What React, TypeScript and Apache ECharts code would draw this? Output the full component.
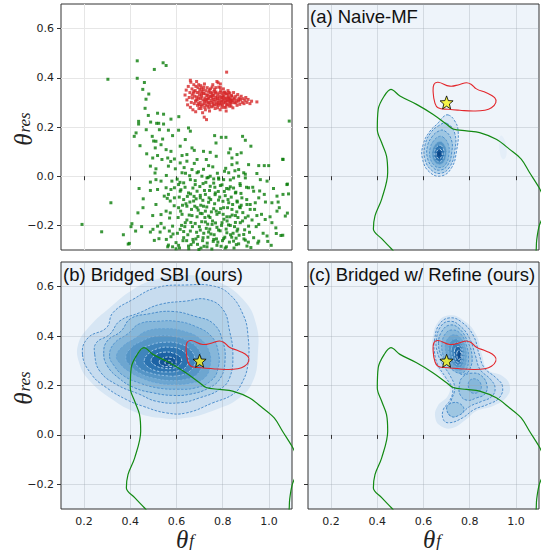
import React, { useEffect, useRef } from 'react';
import * as echarts from 'echarts';

type P = [number, number];

const X_RANGE: P = [0.1, 1.1];
const Y_RANGE: P = [-0.3, 0.7];
const X_TICKS = [0.2, 0.4, 0.6, 0.8, 1.0];
const Y_TICKS = [-0.2, 0.0, 0.2, 0.4, 0.6];

const PANEL_TITLES = ['(a) Naive-MF', '(b) Bridged SBI (ours)', '(c) Bridged w/ Refine (ours)'];
const X_TITLE = '{t|θ}{s|f}';
const Y_TITLE = '{t|θ}{s|res}';

const STAR: P = [0.7, 0.3];

const redContour: P[] = [
  [0.645, 0.373], [0.663, 0.382], [0.714, 0.366], [0.757, 0.373], [0.786, 0.380], [0.807, 0.373],
  [0.829, 0.355], [0.872, 0.339], [0.908, 0.319], [0.913, 0.299], [0.894, 0.278], [0.865, 0.268],
  [0.815, 0.265], [0.757, 0.268], [0.707, 0.272], [0.663, 0.278], [0.649, 0.299], [0.642, 0.339],
];

const greenCurve: P[] = [
  [0.478, -0.315], [0.462, -0.296], [0.42, -0.255], [0.383, -0.215], [0.39, -0.161], [0.419, -0.093],
  [0.445, 0.015], [0.44, 0.082], [0.419, 0.136], [0.4, 0.19], [0.404, 0.272], [0.43, 0.326],
  [0.459, 0.353], [0.498, 0.326], [0.57, 0.292], [0.642, 0.251], [0.70, 0.211], [0.728, 0.192],
  [0.786, 0.184], [0.843, 0.177], [0.915, 0.150], [0.973, 0.109], [1.023, 0.069], [1.059, 0.015],
  [1.10, -0.046], [1.115, -0.075],
];
const greenCurveTail: P[] = [[1.115, -0.17], [1.1, -0.205], [1.09, -0.26], [1.088, -0.296], [1.086, -0.32]];

const greenPoints: P[] = [
  [0.43, 0.469], [0.542, 0.461], [0.555, 0.45], [0.504, 0.434], [0.303, 0.394], [0.43, 0.398],
  [0.461, 0.381], [0.454, 0.353], [0.48, 0.334], [0.468, 0.313], [0.464, 0.276], [0.478, 0.247],
  [0.518, 0.256], [0.544, 0.252], [0.576, 0.232], [0.436, 0.223], [0.436, 0.212], [0.488, 0.22],
  [0.514, 0.215], [0.523, 0.215], [0.544, 0.212], [0.61, 0.242], [1.088, 0.224],
  [0.425, 0.176], [0.417, 0.162], [0.442, 0.124], [0.469, 0.189], [0.495, 0.162], [0.511, 0.142],
  [0.533, 0.128], [0.526, 0.189], [0.565, 0.187], [0.583, 0.165], [0.54, 0.151], [0.501, 0.143],
  [0.508, 0.115], [0.555, 0.108], [0.576, 0.101], [0.471, 0.091], [0.497, 0.074], [0.518, 0.084],
  [0.537, 0.068], [0.562, 0.074], [0.591, 0.07], [0.487, 0.041], [0.511, 0.03], [0.565, 0.041],
  [0.507, 0.013], [0.556, 0.003], [0.487, -0.024], [0.438, -0.05], [0.511, -0.014], [0.533, -0.02],
  [0.555, -0.047], [0.576, -0.054], [0.591, -0.047], [0.487, -0.058], [0.456, -0.092], [0.518, -0.054],
  [0.316, -0.108], [0.565, -0.074], [0.547, -0.081], [0.573, -0.101], [0.591, -0.088], [0.455, -0.128],
  [0.511, -0.115], [0.433, -0.149], [0.497, -0.16], [0.555, -0.142], [0.533, -0.156], [0.573, -0.149],
  [0.191, -0.196], [0.276, -0.226], [0.37, -0.238], [0.407, -0.193], [0.403, -0.205], [0.423, -0.223],
  [0.449, -0.205], [0.487, -0.227], [0.498, -0.216], [0.518, -0.203], [0.533, -0.192], [0.529, -0.227],
  [0.547, -0.21], [0.569, -0.223], [0.583, -0.203], [0.504, -0.261], [0.524, -0.254], [0.556, -0.257],
  [0.576, -0.246], [0.396, -0.273], [0.562, -0.287], [0.583, -0.287], [0.598, -0.27], [0.391, -0.276],
  [0.609, 0.187], [0.652, 0.196], [0.66, 0.183], [0.638, 0.149], [0.765, 0.165], [0.794, 0.158],
  [0.814, 0.158], [0.886, 0.162], [0.898, 0.146], [0.771, 0.135], [0.833, 0.111], [0.922, 0.122],
  [0.616, 0.122], [0.677, 0.105], [0.667, 0.115], [0.717, 0.101], [0.746, 0.097], [0.645, 0.088],
  [0.624, 0.084], [0.772, 0.081], [0.826, 0.095], [0.84, 0.074], [0.862, 0.088], [0.88, 0.095],
  [1.061, 0.068], [0.729, 0.068], [0.689, 0.068], [0.739, 0.043], [0.645, 0.061], [0.616, 0.054],
  [0.667, 0.027], [0.689, 0.014], [0.624, 0.014], [0.84, 0.047], [0.862, 0.054], [0.912, 0.047],
  [0.956, 0.043], [0.98, 0.043], [0.999, 0.043], [0.808, 0.02], [0.826, 0.014], [0.869, 0.027],
  [0.891, 0.014], [0.948, 0.011], [0.71, 0.0], [0.732, -0.007], [0.746, 0.0], [0.761, -0.011],
  [0.782, -0.007], [0.804, -0.014], [0.847, -0.007], [0.869, 0.0], [0.898, -0.007], [0.963, -0.014],
  [0.992, -0.02], [1.078, -0.034], [0.66, -0.014], [0.631, -0.027], [0.609, -0.034], [0.681, -0.034],
  [0.715, -0.03], [0.746, -0.041], [0.79, -0.038], [0.833, -0.043], [0.876, -0.038], [0.912, -0.047],
  [0.934, -0.061], [0.98, -0.074], [1.035, -0.081], [1.061, -0.074], [0.616, -0.061], [0.652, -0.068],
  [0.689, -0.061], [0.725, -0.074], [0.768, -0.068], [0.811, -0.079], [0.855, -0.068], [0.883, -0.088],
  [0.956, -0.088], [0.631, -0.095], [0.674, -0.101], [0.703, -0.088], [0.739, -0.106], [0.782, -0.097],
  [0.826, -0.108], [0.862, -0.101], [0.905, -0.115], [0.941, -0.108], [1.013, -0.108], [1.035, -0.142],
  [1.071, -0.162], [0.609, -0.128], [0.645, -0.122], [0.689, -0.128], [0.717, -0.122], [0.761, -0.132],
  [0.804, -0.128], [0.84, -0.135], [0.876, -0.128], [0.919, -0.135], [0.624, -0.155], [0.667, -0.16],
  [0.703, -0.151], [0.739, -0.162], [0.775, -0.155], [0.818, -0.165], [0.855, -0.16], [0.898, -0.169],
  [0.948, -0.16], [0.984, -0.176], [1.013, -0.189], [0.638, -0.189], [0.681, -0.192], [0.725, -0.186],
  [0.754, -0.196], [0.797, -0.189], [0.833, -0.2], [0.876, -0.189], [0.912, -0.203], [0.956, -0.196],
  [0.616, -0.216], [0.66, -0.223], [0.703, -0.219], [0.739, -0.227], [0.782, -0.219], [0.818, -0.23],
  [0.862, -0.223], [0.891, -0.237], [0.934, -0.25], [0.992, -0.243], [1.032, -0.233], [1.052, -0.241],
  [0.631, -0.25], [0.671, -0.257], [0.715, -0.25], [0.761, -0.257], [0.804, -0.254], [0.847, -0.264],
  [0.898, -0.26], [0.956, -0.264], [0.609, -0.281], [0.652, -0.284], [0.691, -0.277], [0.732, -0.287],
  [0.775, -0.281], [0.816, -0.287], [0.859, -0.278], [0.905, -0.284], [1.01, -0.281],
  [1.08, -0.032], [1.06, 0.069], [1.08, -0.15], [1.06, -0.24], [1.085, -0.072], [1.04, -0.105],
  [0.603, -0.012], [0.612, -0.085], [0.618, -0.142], [0.622, -0.2], [0.628, -0.262], [0.633, 0.035],
  [0.637, -0.045], [0.641, -0.112], [0.645, -0.178], [0.649, -0.238], [0.653, -0.295], [0.657, 0.002],
  [0.661, -0.072], [0.665, -0.135], [0.669, -0.205], [0.673, -0.268], [0.677, 0.052], [0.681, -0.018],
  [0.685, -0.092], [0.689, -0.165], [0.693, -0.245], [0.697, -0.298], [0.701, -0.042], [0.705, -0.118],
  [0.709, -0.185], [0.713, -0.262], [0.717, 0.028], [0.721, -0.058], [0.725, -0.142], [0.729, -0.212],
  [0.733, -0.272], [0.737, -0.005], [0.741, -0.088], [0.745, -0.168], [0.749, -0.235], [0.753, -0.296],
  [0.757, 0.038], [0.761, -0.028], [0.765, -0.112], [0.769, -0.19], [0.773, -0.255], [0.777, 0.012],
  [0.781, -0.062], [0.785, -0.148], [0.789, -0.222], [0.793, -0.285], [0.797, -0.035], [0.801, -0.102],
  [0.805, -0.175], [0.809, -0.248], [0.813, 0.032], [0.817, -0.05], [0.821, -0.128], [0.825, -0.198],
  [0.829, -0.268], [0.833, -0.015], [0.837, -0.085], [0.841, -0.158], [0.845, -0.232], [0.849, -0.292],
  [0.853, 0.022], [0.857, -0.065], [0.861, -0.145], [0.865, -0.215], [0.869, -0.275], [0.875, -0.03],
  [0.88, -0.118], [0.886, -0.182], [0.892, -0.255], [0.898, 0.008], [0.904, -0.095], [0.91, -0.162],
  [0.916, -0.228], [0.922, -0.29], [0.93, -0.045], [0.938, -0.135], [0.945, -0.205], [0.952, -0.272],
  [0.96, -0.06], [0.968, -0.155], [0.975, -0.232], [0.985, -0.105], [0.995, -0.265], [1.005, -0.165],
  [1.02, -0.05], [1.03, -0.21], [1.045, -0.128],
  [0.607, -0.168], [0.615, -0.025], [0.626, -0.118], [0.631, -0.225], [0.639, 0.012], [0.647, -0.082],
  [0.655, -0.158], [0.663, -0.278], [0.671, -0.048], [0.679, -0.122], [0.687, -0.228], [0.695, 0.018],
  [0.703, -0.078], [0.711, -0.152], [0.719, -0.285], [0.727, -0.025], [0.735, -0.195], [0.743, -0.058],
  [0.751, -0.145], [0.759, -0.265], [0.767, -0.075], [0.775, -0.208], [0.783, -0.012], [0.791, -0.132],
  [0.799, -0.262], [0.807, -0.062], [0.815, -0.215], [0.823, -0.095], [0.831, -0.165], [0.839, -0.248],
  [0.847, -0.048], [0.855, -0.188], [0.863, -0.105], [0.871, -0.24], [0.879, -0.07], [0.887, -0.148],
  [0.895, -0.218], [0.903, -0.045], [0.911, -0.268], [0.919, -0.115], [0.927, -0.178], [0.57, -0.17],
  [0.585, -0.235], [0.59, -0.12], [0.58, -0.02], [0.595, 0.03], [0.565, -0.28], [0.56, -0.09],
  [0.575, 0.06], [0.598, -0.295],
  [0.604, -0.232], [0.613, -0.292], [0.619, -0.055], [0.636, -0.205], [0.644, -0.262], [0.658, -0.105],
  [0.662, -0.188], [0.676, -0.082], [0.684, -0.255], [0.694, -0.138], [0.699, -0.205], [0.706, -0.292],
  [0.714, -0.098], [0.718, -0.232], [0.723, -0.168], [0.731, -0.125], [0.736, -0.248], [0.744, -0.215],
  [0.748, -0.095], [0.756, -0.182], [0.763, -0.238], [0.766, -0.045], [0.772, -0.142], [0.779, -0.268],
  [0.787, -0.085], [0.795, -0.2], [0.802, -0.155], [0.811, -0.292], [0.819, -0.182], [0.827, -0.052],
  [0.834, -0.238], [0.843, -0.115], [0.851, -0.205], [0.858, -0.252], [0.866, -0.168], [0.873, -0.125],
];

const redPoints: P[] = [
  [0.637, 0.33], [0.642, 0.35], [0.645, 0.31], [0.648, 0.29], [0.651, 0.365], [0.655, 0.32],
  [0.658, 0.34], [0.66, 0.28], [0.662, 0.382], [0.664, 0.3], [0.667, 0.355], [0.669, 0.318],
  [0.671, 0.27], [0.673, 0.338], [0.675, 0.372], [0.677, 0.295], [0.679, 0.325], [0.681, 0.348],
  [0.683, 0.262], [0.685, 0.31], [0.687, 0.385], [0.689, 0.34], [0.691, 0.288], [0.693, 0.36],
  [0.695, 0.318], [0.697, 0.275], [0.699, 0.33], [0.701, 0.352], [0.703, 0.3], [0.705, 0.368],
  [0.707, 0.285], [0.709, 0.322], [0.711, 0.345], [0.713, 0.258], [0.715, 0.31], [0.717, 0.336],
  [0.719, 0.295], [0.721, 0.375], [0.723, 0.318], [0.725, 0.27], [0.727, 0.348], [0.729, 0.302],
  [0.731, 0.328], [0.733, 0.36], [0.735, 0.285], [0.737, 0.315], [0.739, 0.342], [0.741, 0.298],
  [0.743, 0.265], [0.745, 0.325], [0.747, 0.355], [0.749, 0.308], [0.751, 0.282], [0.753, 0.338],
  [0.755, 0.318], [0.757, 0.372], [0.759, 0.295], [0.761, 0.33], [0.763, 0.305], [0.765, 0.352],
  [0.767, 0.275], [0.769, 0.32], [0.771, 0.342], [0.773, 0.298], [0.775, 0.385], [0.777, 0.315],
  [0.779, 0.335], [0.781, 0.288], [0.783, 0.362], [0.785, 0.308], [0.787, 0.326], [0.789, 0.27],
  [0.791, 0.348], [0.793, 0.302], [0.795, 0.318], [0.797, 0.338], [0.799, 0.29], [0.801, 0.31],
  [0.803, 0.355], [0.805, 0.325], [0.807, 0.28], [0.809, 0.342], [0.811, 0.3], [0.813, 0.318],
  [0.815, 0.265], [0.817, 0.335], [0.819, 0.31], [0.821, 0.292], [0.823, 0.348], [0.825, 0.322],
  [0.827, 0.305], [0.829, 0.285], [0.831, 0.338], [0.833, 0.315], [0.835, 0.298], [0.838, 0.328],
  [0.841, 0.308], [0.844, 0.278], [0.847, 0.34], [0.85, 0.318], [0.853, 0.298], [0.856, 0.325],
  [0.859, 0.31], [0.862, 0.288], [0.865, 0.332], [0.868, 0.305], [0.871, 0.318], [0.874, 0.292],
  [0.877, 0.312], [0.88, 0.325], [0.884, 0.3], [0.888, 0.315], [0.892, 0.295], [0.896, 0.308],
  [0.9, 0.32], [0.905, 0.3], [0.91, 0.312], [0.918, 0.295], [0.925, 0.305], [0.948, 0.302],
  [0.73, 0.23], [0.72, 0.24], [0.817, 0.423], [0.78, 0.38], [0.79, 0.375], [0.66, 0.39],
  [0.682, 0.305], [0.688, 0.322], [0.694, 0.296], [0.698, 0.341], [0.704, 0.315], [0.708, 0.33],
  [0.712, 0.29], [0.716, 0.352], [0.72, 0.305], [0.724, 0.335], [0.728, 0.29], [0.732, 0.312],
  [0.736, 0.33], [0.74, 0.318], [0.744, 0.29], [0.748, 0.34], [0.752, 0.3], [0.756, 0.328],
  [0.76, 0.312], [0.764, 0.29], [0.768, 0.338], [0.772, 0.31], [0.776, 0.325], [0.78, 0.3],
  [0.784, 0.318], [0.788, 0.34], [0.792, 0.292], [0.796, 0.305], [0.8, 0.328], [0.804, 0.298],
  [0.808, 0.315], [0.812, 0.335], [0.816, 0.29], [0.82, 0.305], [0.824, 0.33], [0.828, 0.315],
  [0.832, 0.295], [0.836, 0.31], [0.84, 0.325], [0.845, 0.3], [0.69, 0.31], [0.7, 0.29],
  [0.71, 0.338], [0.726, 0.31], [0.738, 0.3], [0.75, 0.325], [0.762, 0.345], [0.774, 0.29],
  [0.786, 0.295], [0.798, 0.32], [0.81, 0.305], [0.822, 0.318], [0.834, 0.305], [0.848, 0.312],
  [0.858, 0.3], [0.87, 0.31], [0.675, 0.345], [0.668, 0.33], [0.684, 0.365], [0.696, 0.372],
  [0.708, 0.358], [0.718, 0.362], [0.742, 0.35], [0.754, 0.362], [0.77, 0.36], [0.79, 0.36],
  [0.806, 0.34], [0.826, 0.34], [0.706, 0.275], [0.722, 0.28], [0.74, 0.278], [0.758, 0.285],
  [0.778, 0.278], [0.796, 0.28], [0.814, 0.28], [0.836, 0.285],
];

// Panel (a) Naive-MF density contours (outer -> inner)
const naiveContours: P[][] = [
  [[0.707, 0.249], [0.735, 0.225], [0.75, 0.183], [0.743, 0.103], [0.722, 0.035], [0.678, 0.001], [0.628, 0.015], [0.596, 0.069], [0.599, 0.13], [0.628, 0.183], [0.664, 0.217], [0.684, 0.24]],
  [[0.70, 0.215], [0.735, 0.175], [0.735, 0.10], [0.715, 0.04], [0.677, 0.012], [0.635, 0.024], [0.606, 0.07], [0.607, 0.128], [0.63, 0.175], [0.665, 0.205]],
  [[0.69, 0.185], [0.72, 0.15], [0.722, 0.095], [0.705, 0.045], [0.674, 0.025], [0.641, 0.035], [0.617, 0.075], [0.618, 0.125], [0.637, 0.16], [0.663, 0.182]],
  [[0.683, 0.16], [0.707, 0.13], [0.71, 0.09], [0.697, 0.05], [0.672, 0.035], [0.646, 0.045], [0.628, 0.078], [0.63, 0.118], [0.645, 0.145], [0.664, 0.16]],
  [[0.678, 0.14], [0.697, 0.115], [0.698, 0.085], [0.688, 0.058], [0.67, 0.048], [0.651, 0.056], [0.638, 0.082], [0.64, 0.11], [0.652, 0.13], [0.665, 0.14]],
  [[0.675, 0.125], [0.688, 0.105], [0.688, 0.083], [0.68, 0.065], [0.668, 0.06], [0.655, 0.066], [0.647, 0.085], [0.649, 0.105], [0.658, 0.12]],
  [[0.672, 0.11], [0.68, 0.097], [0.679, 0.08], [0.668, 0.072], [0.658, 0.078], [0.655, 0.093], [0.662, 0.107]],
  [[0.67, 0.098], [0.674, 0.09], [0.668, 0.082], [0.662, 0.087], [0.664, 0.097]],
  [[0.935, 0.165], [0.95, 0.15], [0.96, 0.11], [0.955, 0.075], [0.942, 0.07], [0.93, 0.1], [0.928, 0.14]],
];
const naiveLevels = [1, 3, 4, 5, 7, 9, 11, 12, 0];
const naiveOutline = [1, 1, 1, 1, 1, 1, 1, 0, 0];

// Panel (b) Bridged SBI
const bridgedContours: P[][] = [
  [[0.174, 0.366], [0.225, 0.441], [0.311, 0.515], [0.412, 0.589], [0.513, 0.630], [0.643, 0.647], [0.772, 0.623], [0.888, 0.549], [0.945, 0.447], [0.952, 0.326], [0.931, 0.218], [0.873, 0.150], [0.772, 0.103], [0.643, 0.069], [0.527, 0.069], [0.412, 0.096], [0.311, 0.150], [0.225, 0.218], [0.181, 0.285]],
  [[0.193, 0.326], [0.217, 0.393], [0.297, 0.434], [0.325, 0.495], [0.412, 0.549], [0.513, 0.596], [0.643, 0.607], [0.758, 0.603], [0.830, 0.569], [0.888, 0.488], [0.909, 0.407], [0.909, 0.285], [0.880, 0.204], [0.844, 0.164], [0.758, 0.130], [0.643, 0.089], [0.556, 0.089], [0.455, 0.116], [0.383, 0.143], [0.297, 0.191], [0.232, 0.245]],
  [[0.246, 0.326], [0.253, 0.373], [0.311, 0.407], [0.354, 0.461], [0.441, 0.495], [0.527, 0.528], [0.643, 0.542], [0.729, 0.549], [0.801, 0.508], [0.830, 0.420], [0.844, 0.326], [0.830, 0.231], [0.787, 0.184], [0.700, 0.150], [0.614, 0.130], [0.513, 0.136], [0.441, 0.164], [0.340, 0.204], [0.268, 0.258]],
  [[0.285, 0.33], [0.30, 0.38], [0.36, 0.42], [0.40, 0.47], [0.48, 0.49], [0.58, 0.50], [0.68, 0.48], [0.76, 0.45], [0.80, 0.38], [0.81, 0.30], [0.79, 0.23], [0.74, 0.19], [0.66, 0.165], [0.58, 0.16], [0.50, 0.17], [0.42, 0.19], [0.35, 0.23], [0.30, 0.28]],
  [[0.31, 0.32], [0.33, 0.37], [0.39, 0.41], [0.44, 0.45], [0.52, 0.46], [0.60, 0.46], [0.68, 0.44], [0.75, 0.40], [0.78, 0.34], [0.78, 0.27], [0.75, 0.22], [0.68, 0.19], [0.60, 0.185], [0.52, 0.19], [0.44, 0.21], [0.37, 0.24], [0.33, 0.28]],
  [[0.34, 0.32], [0.37, 0.36], [0.42, 0.39], [0.47, 0.42], [0.55, 0.43], [0.63, 0.42], [0.70, 0.39], [0.74, 0.34], [0.745, 0.28], [0.72, 0.23], [0.66, 0.21], [0.59, 0.205], [0.52, 0.21], [0.45, 0.23], [0.39, 0.26], [0.355, 0.29]],
  [[0.38, 0.31], [0.40, 0.35], [0.45, 0.38], [0.51, 0.40], [0.58, 0.40], [0.65, 0.38], [0.70, 0.34], [0.71, 0.29], [0.69, 0.245], [0.64, 0.225], [0.57, 0.22], [0.50, 0.23], [0.44, 0.25], [0.40, 0.28]],
  [[0.42, 0.305], [0.44, 0.34], [0.49, 0.365], [0.55, 0.375], [0.61, 0.37], [0.66, 0.345], [0.68, 0.30], [0.66, 0.26], [0.61, 0.24], [0.55, 0.24], [0.49, 0.25], [0.44, 0.27]],
  [[0.46, 0.30], [0.48, 0.33], [0.52, 0.35], [0.57, 0.355], [0.62, 0.345], [0.65, 0.315], [0.645, 0.28], [0.61, 0.26], [0.56, 0.255], [0.51, 0.26], [0.47, 0.28]],
  [[0.49, 0.30], [0.51, 0.325], [0.55, 0.335], [0.59, 0.33], [0.62, 0.31], [0.615, 0.285], [0.585, 0.27], [0.545, 0.27], [0.51, 0.28]],
  [[0.525, 0.295], [0.54, 0.31], [0.57, 0.315], [0.595, 0.305], [0.595, 0.285], [0.57, 0.277], [0.54, 0.28]],
  [[0.55, 0.293], [0.565, 0.302], [0.58, 0.296], [0.575, 0.285], [0.557, 0.285]],
];
const bridgedLevels = [1, 2, 3, 4, 5, 6, 7, 8, 9, 10, 11, 12];
const bridgedOutline = [0, 1, 1, 1, 1, 1, 1, 1, 1, 1, 1, 1];

// Panel (c) Bridged w/ Refine
const refineContours: P[][] = [
  [[0.640, 0.393], [0.661, 0.454], [0.712, 0.484], [0.777, 0.461], [0.827, 0.407], [0.853, 0.326], [0.877, 0.265], [0.942, 0.238], [0.974, 0.197], [0.957, 0.150], [0.899, 0.116], [0.827, 0.096], [0.784, 0.062], [0.726, 0.028], [0.676, 0.035], [0.651, 0.069], [0.661, 0.116], [0.705, 0.157], [0.712, 0.197], [0.676, 0.245], [0.647, 0.299], [0.637, 0.353]],
  [[0.647, 0.380], [0.668, 0.447], [0.715, 0.474], [0.769, 0.454], [0.817, 0.400], [0.841, 0.326], [0.863, 0.272], [0.914, 0.231], [0.942, 0.197], [0.928, 0.150], [0.877, 0.123], [0.820, 0.103], [0.769, 0.069], [0.712, 0.049], [0.686, 0.062], [0.686, 0.103], [0.712, 0.136], [0.726, 0.184], [0.697, 0.231], [0.661, 0.285], [0.647, 0.339]],
  [[0.655, 0.38], [0.675, 0.44], [0.715, 0.46], [0.76, 0.44], [0.80, 0.39], [0.825, 0.32], [0.845, 0.265], [0.89, 0.225], [0.91, 0.19], [0.895, 0.155], [0.85, 0.135], [0.80, 0.115], [0.76, 0.085], [0.72, 0.075], [0.705, 0.1], [0.72, 0.14], [0.735, 0.19], [0.715, 0.24], [0.68, 0.29], [0.66, 0.335]],
  [[0.665, 0.37], [0.68, 0.42], [0.715, 0.445], [0.755, 0.43], [0.79, 0.38], [0.81, 0.32], [0.80, 0.265], [0.775, 0.245], [0.745, 0.255], [0.71, 0.28], [0.68, 0.315]],
  [[0.77, 0.235], [0.81, 0.25], [0.85, 0.24], [0.875, 0.2], [0.865, 0.165], [0.83, 0.15], [0.79, 0.14], [0.76, 0.16], [0.755, 0.2]],
  [[0.70, 0.11], [0.725, 0.13], [0.76, 0.125], [0.775, 0.1], [0.755, 0.08], [0.72, 0.075]],
  [[0.68, 0.37], [0.695, 0.41], [0.725, 0.425], [0.76, 0.41], [0.785, 0.365], [0.795, 0.31], [0.785, 0.265], [0.76, 0.25], [0.73, 0.26], [0.70, 0.29], [0.683, 0.33]],
  [[0.80, 0.22], [0.83, 0.225], [0.85, 0.2], [0.84, 0.175], [0.81, 0.17], [0.795, 0.19]],
  [[0.695, 0.365], [0.71, 0.395], [0.735, 0.405], [0.762, 0.39], [0.78, 0.355], [0.785, 0.31], [0.775, 0.272], [0.755, 0.262], [0.73, 0.27], [0.71, 0.295], [0.698, 0.33]],
  [[0.71, 0.36], [0.723, 0.383], [0.743, 0.388], [0.763, 0.373], [0.775, 0.345], [0.777, 0.31], [0.768, 0.281], [0.752, 0.273], [0.733, 0.28], [0.718, 0.30], [0.71, 0.33]],
  [[0.722, 0.353], [0.733, 0.37], [0.75, 0.372], [0.764, 0.358], [0.77, 0.335], [0.77, 0.31], [0.762, 0.288], [0.75, 0.283], [0.737, 0.29], [0.727, 0.31], [0.722, 0.333]],
  [[0.735, 0.345], [0.745, 0.357], [0.757, 0.355], [0.764, 0.34], [0.766, 0.318], [0.76, 0.298], [0.75, 0.293], [0.741, 0.302], [0.735, 0.322]],
  [[0.745, 0.335], [0.752, 0.343], [0.76, 0.338], [0.762, 0.322], [0.757, 0.307], [0.75, 0.305], [0.745, 0.318]],
  [[0.752, 0.328], [0.757, 0.332], [0.76, 0.322], [0.756, 0.313], [0.751, 0.318]],
];
const refineLevels = [1, 2, 3, 4, 4, 4, 5, 5, 6, 7, 8, 10, 11, 12];
const refineOutline = [0, 1, 1, 1, 1, 1, 1, 1, 1, 1, 1, 1, 1, 0];

// Styles
const BLUES = ['#e4eef8', '#d7e6f4', '#c7dcef', '#b3d2e9', '#9ec6e2', '#86b7da', '#6da6d0', '#5595c6', '#3f84bc', '#2b73b1', '#1c62a4', '#115396', '#0a4585'];
const DASHES = ['none', '#3f86c8', '#3f86c8', '#3f86c8', '#3f86c8', '#4d91ce', '#62a0d5', '#7cb1dd', '#98c2e5', '#adcfeb', '#c0dbf0', '#d0e4f4', '#dceaf6'];
const BG = '#eef4fa';
const GREEN = '#138a13';
const RED = '#d62728';
const TICK_FONT = 'DejaVu Sans';
const MATH_FONT = 'Liberation Serif';

const GRIDS = [
  { left: 61, top: 4, width: 231, height: 246 },
  { left: 308, top: 4, width: 231, height: 246 },
  { left: 61, top: 262, width: 231, height: 247 },
  { left: 308, top: 262, width: 231, height: 247 },
];

const fmt = (v: number) => (v < -1e-9 ? '\u2212' + Math.abs(v).toFixed(1) : Math.abs(v).toFixed(1));

const mathRich = {
  t: { fontSize: 25, fontFamily: MATH_FONT, fontStyle: 'italic', fill: '#222', verticalAlign: 'top', lineHeight: 20 },
  s: { fontSize: 17, fontFamily: MATH_FONT, fontStyle: 'italic', fill: '#222', verticalAlign: 'top', lineHeight: 12, padding: [5, 0, 0, 1] },
};

function makeOption() {
  const grid = GRIDS.map((g, i) => ({
    ...g,
    show: true,
    borderColor: '#333',
    borderWidth: 1,
    backgroundColor: i === 0 ? '#ffffff' : BG,
    outerBoundsMode: 'none',
    containLabel: false,
    z: 0,
  }));
  const xAxis = GRIDS.map((_, i) => ({
    type: 'value',
    gridIndex: i,
    min: X_RANGE[0],
    max: X_RANGE[1],
    z: i === 0 ? 0 : 3,
    axisLine: { show: false },
    axisTick: { show: true, length: 4, customValues: X_TICKS, lineStyle: { color: '#333' } },
    axisLabel: {
      show: i >= 2,
      customValues: X_TICKS,
      formatter: fmt,
      fontFamily: TICK_FONT,
      fontSize: 11,
      lineHeight: 12,
      color: '#222',
      margin: 6,
    },
    splitLine: { show: true, lineStyle: { color: i === 0 ? '#e6e6e6' : 'rgba(150,160,170,0.3)', width: 1 } },
  }));
  const yAxis = GRIDS.map((_, i) => ({
    type: 'value',
    gridIndex: i,
    min: Y_RANGE[0],
    max: Y_RANGE[1],
    z: i === 0 ? 0 : 3,
    axisLine: { show: false },
    axisTick: { show: true, length: 4, customValues: Y_TICKS, lineStyle: { color: '#333' } },
    axisLabel: {
      show: i % 2 === 0,
      customValues: Y_TICKS,
      formatter: fmt,
      fontFamily: TICK_FONT,
      fontSize: 11,
      color: '#222',
      margin: 7,
    },
    splitLine: { show: true, lineStyle: { color: i === 0 ? '#e6e6e6' : 'rgba(150,160,170,0.3)', width: 1 } },
  }));

  const contourSeries = (gi: number, polys: P[][], levels: number[], outline: number[]) => ({
    type: 'custom',
    xAxisIndex: gi,
    yAxisIndex: gi,
    coordinateSystem: 'cartesian2d',
    clip: true,
    silent: true,
    z: 1,
    data: polys.map((p, k) => [p[0][0], p[0][1], k]),
    encode: { x: 0, y: 1 },
    renderItem: (params: any, api: any) => {
      const k = params.dataIndex;
      const lv = levels[k];
      const pts = polys[k].map((p) => api.coord(p));
      return {
        type: 'polygon',
        shape: { points: pts, smooth: 0.45 },
        style: {
          fill: BLUES[lv],
          stroke: outline[k] ? DASHES[lv] : 'none',
          lineWidth: 0.9,
          lineDash: [2.5, 1.5],
        },
      };
    },
  });

  const redContourSeries = (gi: number) => ({
    type: 'custom',
    xAxisIndex: gi,
    yAxisIndex: gi,
    coordinateSystem: 'cartesian2d',
    clip: true,
    silent: true,
    z: 5,
    data: [[redContour[0][0], redContour[0][1]]],
    encode: { x: 0, y: 1 },
    renderItem: (_p: any, api: any) => ({
      type: 'polygon',
      shape: { points: redContour.map((p) => api.coord(p)), smooth: 0.45 },
      style: { fill: 'none', stroke: '#e3262b', lineWidth: 1.1 },
    }),
  });

  const greenLine = (gi: number, d: P[]) => ({
    type: 'line',
    xAxisIndex: gi,
    yAxisIndex: gi,
    data: d,
    smooth: 0.35,
    showSymbol: false,
    symbol: 'none',
    clip: true,
    silent: true,
    z: 5,
    lineStyle: { color: GREEN, width: 1.2 },
  });

  const starSeries = (gi: number) => ({
    type: 'scatter',
    xAxisIndex: gi,
    yAxisIndex: gi,
    data: [STAR],
    symbol: 'path://M12 1 L14.9 8.6 L23 9 L16.7 14.2 L18.8 22 L12 17.6 L5.2 22 L7.3 14.2 L1 9 L9.1 8.6 Z',
    symbolSize: 13,
    silent: true,
    z: 6,
    itemStyle: { color: '#f7f21a', borderColor: '#000', borderWidth: 1 },
  });

  const series: any[] = [
    {
      type: 'scatter',
      xAxisIndex: 0,
      yAxisIndex: 0,
      data: greenPoints,
      symbol: 'rect',
      symbolSize: 3,
      silent: true,
      itemStyle: { color: '#0a7d0a' },
    },
    {
      type: 'scatter',
      xAxisIndex: 0,
      yAxisIndex: 0,
      data: redPoints,
      symbol: 'rect',
      symbolSize: 3,
      silent: true,
      itemStyle: { color: RED },
    },
  ];
  const panels = [
    { gi: 1, polys: naiveContours, levels: naiveLevels, outline: naiveOutline },
    { gi: 2, polys: bridgedContours, levels: bridgedLevels, outline: bridgedOutline },
    { gi: 3, polys: refineContours, levels: refineLevels, outline: refineOutline },
  ];
  panels.forEach(({ gi, polys, levels, outline }) => {
    series.push(contourSeries(gi, polys, levels, outline));
    series.push(redContourSeries(gi));
    series.push(greenLine(gi, greenCurve));
    series.push(greenLine(gi, greenCurveTail));
    series.push(starSeries(gi));
  });

  const titlePos = [
    { x: 310, y: 7 },
    { x: 63, y: 265 },
    { x: 309, y: 265 },
  ];
  const graphic: any[] = PANEL_TITLES.map((t, i) => ({
    type: 'text',
    x: titlePos[i].x,
    y: titlePos[i].y,
    z: 100,
    style: { text: t, fontFamily: 'Liberation Sans', fontSize: 18.5, fill: '#111', verticalAlign: 'top', align: 'left' },
  }));
  // axis titles
  [129, 388].forEach((cy) => {
    graphic.push({
      type: 'text',
      x: 21,
      y: cy,
      rotation: Math.PI / 2,
      z: 100,
      style: { text: Y_TITLE, rich: mathRich, align: 'center', verticalAlign: 'middle' },
    });
  });
  [185, 432].forEach((cx) => {
    graphic.push({
      type: 'text',
      x: cx,
      y: 537,
      z: 100,
      style: { text: X_TITLE, rich: mathRich, align: 'center', verticalAlign: 'middle' },
    });
  });

  return { animation: false, grid, xAxis, yAxis, series, graphic };
}

export default function App() {
  const ref = useRef<HTMLDivElement>(null);
  useEffect(() => {
    if (!ref.current) return;
    const chart = echarts.init(ref.current, null, { renderer: 'svg' });
    chart.setOption(makeOption() as any);
    return () => chart.dispose();
  }, []);
  return (
    <div
      ref={ref}
      style={{ position: 'fixed', left: 0, top: 0, width: 546, height: 550, background: '#fff' }}
    />
  );
}
